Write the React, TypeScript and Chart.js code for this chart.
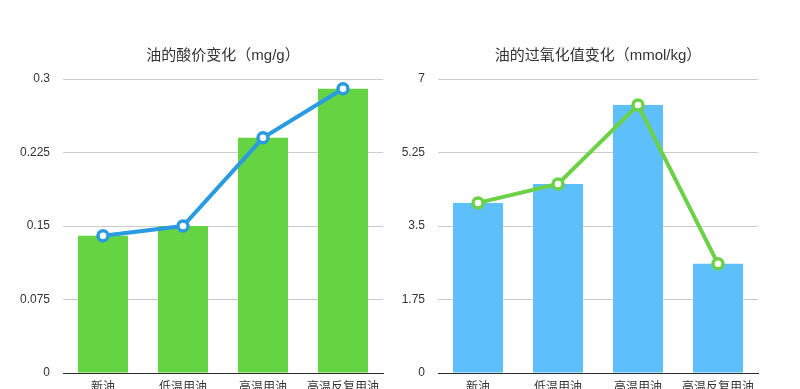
import React, { useEffect, useRef } from "react";
import { Chart, registerables } from "chart.js";

Chart.register(...registerables);

const categories = ["新油", "低温用油", "高温用油", "高温反复用油"];

const acidTitle = "油的酸价变化（mg/g）";
const acidValues = [0.14, 0.15, 0.24, 0.29];
const acidTicks = ["0", "0.075", "0.15", "0.225", "0.3"];

const peroxTitle = "油的过氧化值变化（mmol/kg）";
const peroxValues = [4.05, 4.5, 6.38, 2.6];
const peroxTicks = ["0", "1.75", "3.5", "5.25", "7"];

const FONT = '"Helvetica Neue", Arial, "Liberation Sans", "Noto Sans CJK SC", sans-serif';

type Cfg = {
  title: string;
  values: number[];
  ticks: string[];
  max: number;
  barColor: string;
  lineColor: string;
  yWidth: number;
  rightPad: number;
};

function MiniChart({ cfg, left, width }: { cfg: Cfg; left: number; width: number }) {
  const ref = useRef<HTMLCanvasElement | null>(null);
  useEffect(() => {
    if (!ref.current) return;
    const step = cfg.max / (cfg.ticks.length - 1);
    const chart = new Chart(ref.current, {
      type: "bar",
      data: {
        labels: categories,
        datasets: [
          {
            type: "line",
            data: cfg.values,
            borderColor: cfg.lineColor,
            borderWidth: 4,
            pointBackgroundColor: "#ffffff",
            pointBorderColor: cfg.lineColor,
            pointBorderWidth: 3.5,
            pointRadius: 5,
            tension: 0,
            order: 0,
          } as any,
          {
            type: "bar",
            data: cfg.values,
            backgroundColor: cfg.barColor,
            barPercentage: 0.625,
            categoryPercentage: 1,
            order: 1,
          },
        ],
      },
      options: {
        animation: false,
        responsive: false,
        maintainAspectRatio: false,
        layout: { padding: { left: 0, right: cfg.rightPad, top: 0, bottom: 0 } },
        plugins: {
          legend: { display: false },
          tooltip: { enabled: false },
          title: {
            display: true,
            fullSize: false,
            text: cfg.title,
            color: "#333333",
            font: { family: FONT, size: 15, weight: "normal" },
            padding: { top: 47, bottom: 14 },
          },
        },
        scales: {
          x: {
            grid: { display: false, drawTicks: false },
            border: { display: true, color: "#2b2b2b", width: 1 },
            ticks: {
              color: "#333333",
              font: { family: FONT, size: 12 },
              padding: 7,
              maxRotation: 0,
              autoSkip: false,
            },
            afterFit: (s: any) => {
              s.height = 30;
            },
          },
          y: {
            min: 0,
            max: cfg.max,
            grid: { color: "#cccccc", lineWidth: 1, drawTicks: false },
            border: { display: false },
            ticks: {
              stepSize: step,
              color: "#333333",
              font: { family: FONT, size: 12 },
              padding: 13,
              callback: (_v: any, i: number) => cfg.ticks[i],
            },
            afterFit: (s: any) => {
              s.width = cfg.yWidth;
            },
          },
        },
      },
    });
    return () => chart.destroy();
  }, []);
  return (
    <canvas
      ref={ref}
      width={width}
      height={403}
      style={{ position: "absolute", left, top: 0, width, height: 403 }}
    />
  );
}

export default function App() {
  const acid: Cfg = {
    title: acidTitle,
    values: acidValues,
    ticks: acidTicks,
    max: 0.3,
    barColor: "#64d442",
    lineColor: "#2a9be0",
    yWidth: 63,
    rightPad: 17,
  };
  const perox: Cfg = {
    title: peroxTitle,
    values: peroxValues,
    ticks: peroxTicks,
    max: 7,
    barColor: "#5ec0fa",
    lineColor: "#6bd146",
    yWidth: 38,
    rightPad: 42,
  };
  return (
    <div
      style={{
        position: "fixed",
        left: 0,
        top: 0,
        width: 800,
        height: 389,
        overflow: "hidden",
        background: "#ffffff",
      }}
    >
      <MiniChart cfg={acid} left={0} width={400} />
      <MiniChart cfg={perox} left={400} width={400} />
    </div>
  );
}
